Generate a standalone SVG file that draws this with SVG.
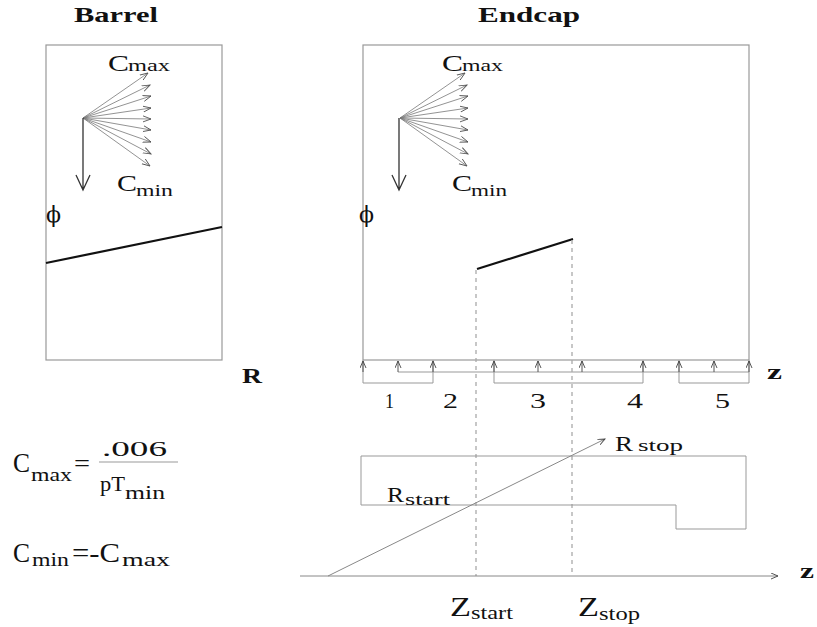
<svg xmlns="http://www.w3.org/2000/svg" width="817" height="627" viewBox="0 0 817 627">
<defs>
<marker id="fh" markerUnits="userSpaceOnUse" markerWidth="10" markerHeight="10" refX="8" refY="4" orient="auto">
<path d="M0,1 L8,4 L0,7" fill="none" stroke="#555" stroke-width="0.9"/>
</marker>
<marker id="th" markerUnits="userSpaceOnUse" markerWidth="10" markerHeight="10" refX="7" refY="3" orient="auto">
<path d="M0,0 L7,3 L0,6" fill="none" stroke="#444" stroke-width="0.9"/>
</marker>
</defs>
<style>
text{font-family:"Liberation Serif","Times New Roman",serif;fill:#111}
.title{font-weight:bold;font-size:22px}
.box{fill:none;stroke:#999;stroke-width:1.2}
.fan{stroke:#777;stroke-width:0.8;marker-end:url(#fh)}
.down{stroke:#333;stroke-width:1.3;fill:none}
.seg{stroke:#111;stroke-width:2.2}
.dash{stroke:#aaa;stroke-width:1.3;stroke-dasharray:4,4}
.thin{stroke:#999;stroke-width:1;fill:none}
.tick{stroke:#555;stroke-width:1;marker-end:url(#th)}
.phi{font-family:"DejaVu Serif",serif;font-size:22px}
.num{font-size:22px}
</style>
<rect width="817" height="627" fill="#fff"/>

<g id="barrel">
<text class="title" x="74" y="22" textLength="84" lengthAdjust="spacingAndGlyphs">Barrel</text>
<rect class="box" x="46" y="45" width="176" height="315"/>
<g>
<line class="fan" x1="83" y1="118" x2="148" y2="73"/>
<line class="fan" x1="83" y1="118" x2="150" y2="85"/>
<line class="fan" x1="83" y1="118" x2="151" y2="96"/>
<line class="fan" x1="83" y1="118" x2="151" y2="108"/>
<line class="fan" x1="83" y1="118" x2="151" y2="119"/>
<line class="fan" x1="83" y1="118" x2="151" y2="130"/>
<line class="fan" x1="83" y1="118" x2="151" y2="142"/>
<line class="fan" x1="83" y1="118" x2="151" y2="154"/>
<line class="fan" x1="83" y1="118" x2="150" y2="166"/>
</g>
<path class="down" d="M83,118 V190 M76,175 L83,190 L90,175"/>
<text x="108" y="71" font-size="23" textLength="21" lengthAdjust="spacingAndGlyphs">C</text>
<text x="128" y="71" font-size="17" textLength="42" lengthAdjust="spacingAndGlyphs">max</text>
<text x="117" y="191" font-size="23" textLength="20" lengthAdjust="spacingAndGlyphs">C</text>
<text x="136" y="196" font-size="17" textLength="37" lengthAdjust="spacingAndGlyphs">min</text>
<text x="46" y="222" class="phi">ϕ</text>
<line class="seg" x1="46" y1="263" x2="222" y2="227"/>
<text x="242" y="383" font-size="20" font-weight="bold" textLength="20" lengthAdjust="spacingAndGlyphs">R</text>
</g>

<g id="endcap">
<text class="title" x="478" y="22" textLength="102" lengthAdjust="spacingAndGlyphs">Endcap</text>
<rect class="box" x="363" y="45" width="386" height="315"/>
<g>
<line class="fan" x1="400" y1="118" x2="465" y2="73"/>
<line class="fan" x1="400" y1="118" x2="467" y2="85"/>
<line class="fan" x1="400" y1="118" x2="468" y2="96"/>
<line class="fan" x1="400" y1="118" x2="468" y2="108"/>
<line class="fan" x1="400" y1="118" x2="468" y2="119"/>
<line class="fan" x1="400" y1="118" x2="468" y2="130"/>
<line class="fan" x1="400" y1="118" x2="468" y2="142"/>
<line class="fan" x1="400" y1="118" x2="468" y2="154"/>
<line class="fan" x1="400" y1="118" x2="467" y2="166"/>
</g>
<path class="down" d="M399,118 V190 M392,175 L399,190 L406,175"/>
<text x="442" y="71" font-size="23" textLength="21" lengthAdjust="spacingAndGlyphs">C</text>
<text x="462" y="71" font-size="17" textLength="41" lengthAdjust="spacingAndGlyphs">max</text>
<text x="452" y="191" font-size="23" textLength="20" lengthAdjust="spacingAndGlyphs">C</text>
<text x="471" y="196" font-size="17" textLength="36" lengthAdjust="spacingAndGlyphs">min</text>
<text x="359" y="222" class="phi">ϕ</text>
<line class="seg" x1="477" y1="269" x2="573" y2="239"/>
</g>

<g id="z-layers">
<line class="thin" x1="398" y1="372" x2="749" y2="372"/>
<path class="thin" d="M363,360 V383 H433 V360"/>
<path class="thin" d="M494,360 V383 H643 V360"/>
<path class="thin" d="M679,360 V383 H749 V360"/>
<line class="tick" x1="363" y1="372" x2="363" y2="361"/>
<line class="tick" x1="398" y1="372" x2="398" y2="361"/>
<line class="tick" x1="433" y1="372" x2="433" y2="361"/>
<line class="tick" x1="494" y1="372" x2="494" y2="361"/>
<line class="tick" x1="538" y1="372" x2="538" y2="361"/>
<line class="tick" x1="582" y1="372" x2="582" y2="361"/>
<line class="tick" x1="643" y1="372" x2="643" y2="361"/>
<line class="tick" x1="679" y1="372" x2="679" y2="361"/>
<line class="tick" x1="714" y1="372" x2="714" y2="361"/>
<line class="tick" x1="749" y1="372" x2="749" y2="361"/>
<text x="767" y="379" font-size="20" font-weight="bold" textLength="15" lengthAdjust="spacingAndGlyphs">z</text>
<text x="385" y="408" class="num" textLength="9" lengthAdjust="spacingAndGlyphs">1</text>
<text x="443" y="408" class="num" textLength="15" lengthAdjust="spacingAndGlyphs">2</text>
<text x="530" y="408" class="num" textLength="16" lengthAdjust="spacingAndGlyphs">3</text>
<text x="627" y="408" class="num" textLength="16" lengthAdjust="spacingAndGlyphs">4</text>
<text x="715" y="408" class="num" textLength="15" lengthAdjust="spacingAndGlyphs">5</text>
</g>

<g id="connectors">
<line class="dash" x1="476" y1="270" x2="476" y2="576"/>
<line class="dash" x1="572" y1="240" x2="572" y2="576"/>
</g>

<g id="rz-view">
<path class="thin" d="M361,456 H746 V529 H676 V505 H361 Z"/>
<line x1="300" y1="576" x2="778" y2="576" stroke="#888" stroke-width="1" marker-end="url(#th)"/>
<line x1="328" y1="576" x2="605" y2="439" stroke="#888" stroke-width="1" marker-end="url(#th)"/>
<text x="800" y="578" font-size="20" font-weight="bold" textLength="14" lengthAdjust="spacingAndGlyphs">z</text>
<text x="615" y="451" font-size="20" textLength="18" lengthAdjust="spacingAndGlyphs">R</text>
<text x="638" y="451" font-size="16" textLength="45" lengthAdjust="spacingAndGlyphs">stop</text>
<text x="387" y="502" font-size="20" textLength="17" lengthAdjust="spacingAndGlyphs">R</text>
<text x="405" y="505" font-size="17" textLength="45" lengthAdjust="spacingAndGlyphs">start</text>
<text x="450" y="616" font-size="27" textLength="21" lengthAdjust="spacingAndGlyphs">Z</text>
<text x="471" y="619" font-size="19" textLength="42" lengthAdjust="spacingAndGlyphs">start</text>
<text x="578" y="616" font-size="27" textLength="21" lengthAdjust="spacingAndGlyphs">Z</text>
<text x="599" y="620" font-size="19" textLength="41" lengthAdjust="spacingAndGlyphs">stop</text>
</g>

<g id="formulas">
<text x="13" y="472" font-size="27" textLength="17" lengthAdjust="spacingAndGlyphs">C</text>
<text x="31" y="481" font-size="19" textLength="41" lengthAdjust="spacingAndGlyphs">max</text>
<text x="74" y="472" font-size="26" textLength="16" lengthAdjust="spacingAndGlyphs">=</text>
<text x="102" y="456" font-size="20" textLength="65" lengthAdjust="spacingAndGlyphs">.006</text>
<line x1="99" y1="462" x2="178" y2="462" stroke="#999" stroke-width="1"/>
<text x="100" y="491" font-size="22" textLength="25" lengthAdjust="spacingAndGlyphs">pT</text>
<text x="125" y="499" font-size="18" textLength="40" lengthAdjust="spacingAndGlyphs">min</text>
<text x="13" y="562" font-size="27" textLength="17" lengthAdjust="spacingAndGlyphs">C</text>
<text x="32" y="566" font-size="19" textLength="37" lengthAdjust="spacingAndGlyphs">min</text>
<text x="72" y="562" font-size="27" textLength="48" lengthAdjust="spacingAndGlyphs">=-C</text>
<text x="122" y="566" font-size="19" textLength="48" lengthAdjust="spacingAndGlyphs">max</text>
</g>
</svg>
